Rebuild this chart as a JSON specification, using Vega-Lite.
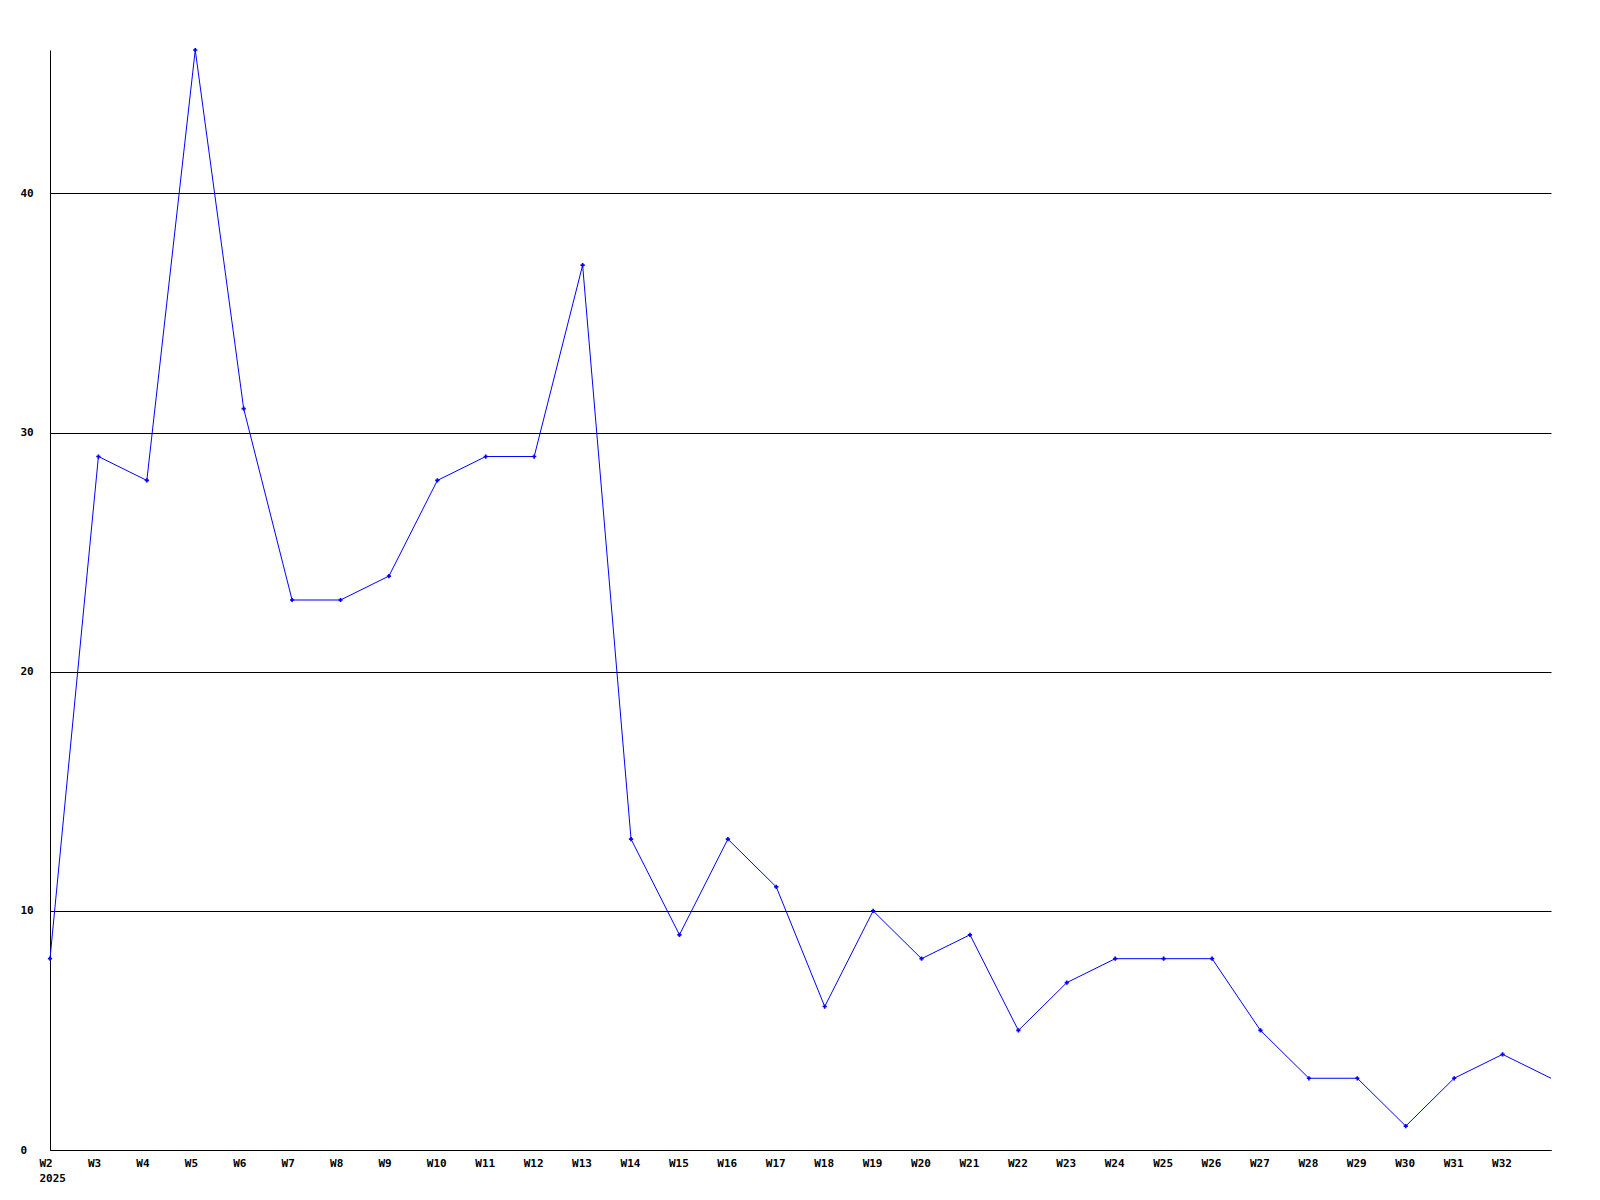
{
  "$schema": "https://vega.github.io/schema/vega-lite/v6.json",
  "width": 1501,
  "height": 1100,
  "autosize": "none",
  "padding": {"left": 50, "top": 50, "right": 49, "bottom": 50},
  "background": "white",
  "config": {"view": {"stroke": null}},
  "data": {"values": [
    {"week": 2, "value": 8}, {"week": 3, "value": 29}, {"week": 4, "value": 28}, {"week": 5, "value": 46},
    {"week": 6, "value": 31}, {"week": 7, "value": 23}, {"week": 8, "value": 23}, {"week": 9, "value": 24},
    {"week": 10, "value": 28}, {"week": 11, "value": 29}, {"week": 12, "value": 29}, {"week": 13, "value": 37},
    {"week": 14, "value": 13}, {"week": 15, "value": 9}, {"week": 16, "value": 13}, {"week": 17, "value": 11},
    {"week": 18, "value": 6}, {"week": 19, "value": 10}, {"week": 20, "value": 8}, {"week": 21, "value": 9},
    {"week": 22, "value": 5}, {"week": 23, "value": 7}, {"week": 24, "value": 8}, {"week": 25, "value": 8},
    {"week": 26, "value": 8}, {"week": 27, "value": 5}, {"week": 28, "value": 3}, {"week": 29, "value": 3},
    {"week": 30, "value": 1}, {"week": 31, "value": 3}, {"week": 32, "value": 4}, {"week": 33, "value": 3}
  ]},
  "encoding": {
    "x": {"field": "week", "type": "quantitative",
      "scale": {"domain": [2, 33], "nice": false, "zero": false},
      "axis": {"title": null, "values": [2,3,4,5,6,7,8,9,10,11,12,13,14,15,16,17,18,19,20,21,22,23,24,25,26,27,28,29,30,31,32],
        "labelExpr": "datum.value == 2 ? ['W2', '2025'] : 'W' + datum.value",
        "labelAlign": "left", "labelOffset": -11, "labelBaseline": "top", "labelPadding": 7,
        "labelLineHeight": 15, "labelFlush": false, "labelOverlap": false,
        "ticks": false, "grid": false, "domainColor": "black", "domainWidth": 1,
        "labelFont": "DejaVu Sans Mono", "labelFontWeight": "bold", "labelFontSize": 11, "labelColor": "black"}},
    "y": {"field": "value", "type": "quantitative",
      "scale": {"domain": [0, 46], "nice": false, "zero": true},
      "axis": {"title": null, "values": [0, 10, 20, 30, 40],
        "labelAlign": "left", "labelPadding": 30, "labelBaseline": "middle", "labelFlush": false,
        "ticks": false, "grid": true, "gridColor": "black", "gridOpacity": 1, "gridWidth": 1,
        "domainColor": "black", "domainWidth": 1,
        "labelFont": "DejaVu Sans Mono", "labelFontWeight": "bold", "labelFontSize": 11, "labelColor": "black"}}
  },
  "layer": [
    {"mark": {"type": "line", "color": "#0000ff", "strokeWidth": 1}},
    {"transform": [{"filter": "datum.week <= 32"}],
     "mark": {"type": "point", "shape": "cross", "filled": true, "color": "#0000ff", "size": 18, "opacity": 1}}
  ]
}
